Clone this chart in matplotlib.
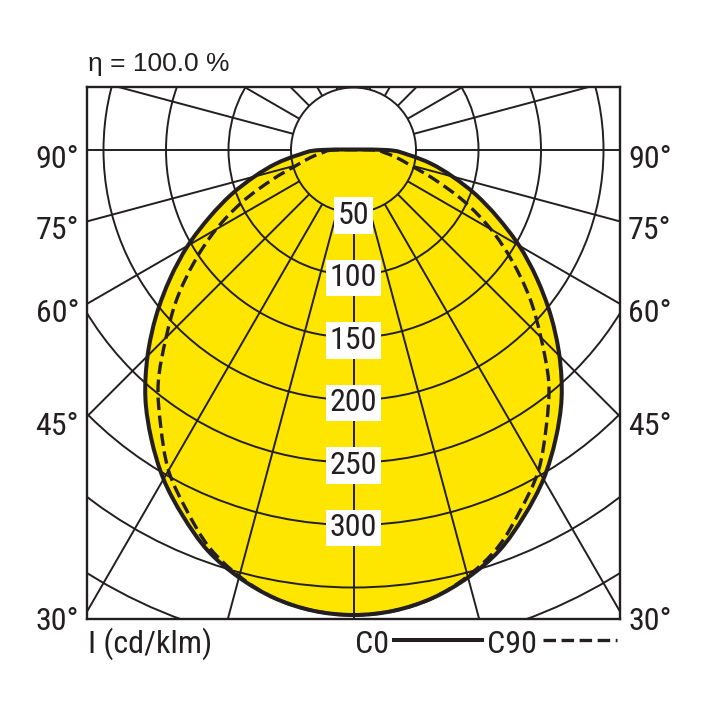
import numpy as np
import matplotlib
matplotlib.use("Agg")
import matplotlib.pyplot as plt
import matplotlib.font_manager as fm
from matplotlib.patches import Circle, PathPatch
from matplotlib.path import Path
from matplotlib.lines import Line2D

# luminous intensity (cd/klm) against gamma angle
gamma = [0, 5, 10, 15, 20, 25, 30, 35, 40, 45, 50, 55, 60, 65, 70, 75, 80, 85, 90]
c0 = [372, 370, 364, 354, 341, 323, 304, 282, 259, 233, 206, 179, 153, 127, 104, 82, 63, 44, 26]
c90 = [372, 370, 364, 353, 338, 317, 296, 269, 243, 212, 184, 155, 127, 98, 69, 47, 35, 25, 16]

ring_values = [50, 100, 150, 200, 250, 300, 350, 400, 450]
ring_labels = [50, 100, 150, 200, 250, 300]
side_angles = [90, 75, 60, 45, 30]
eta = "η = 100.0 %"
unit = "I (cd/klm)"

# a condensed face, close to the narrow grotesque of the original
names = {f.name for f in fm.fontManager.ttflist}
fam = "DejaVu Sans"
for cand in ["Roboto Condensed", "Archivo Narrow", "PT Sans Narrow", "Barlow Semi Condensed"]:
    if cand in names:
        fam = cand
        break
title_fam = "Liberation Sans" if "Liberation Sans" in names else fam
plt.rcParams["font.family"] = [fam, "DejaVu Sans"]
plt.rcParams["lines.scale_dashes"] = False

ink = "#231f20"
yellow = "#ffe600"
W = 708.0
ppc = 1.25  # pixels per cd/klm
fs = 23

fig = plt.figure(figsize=(7.08, 7.08), dpi=100)
box = (87, 87, 620, 619)  # left, top, right, bottom in pixels
ax = fig.add_axes([box[0] / W, 1 - box[3] / W, (box[2] - box[0]) / W, (box[3] - box[1]) / W])
cx, cy = 354, 150
xr = (box[2] - box[0]) / 2 / ppc
ax.set_xlim(-xr, xr)
ax.set_ylim(-(box[3] - cy) / ppc, (cy - box[1]) / ppc)
ax.set_xticks([])
ax.set_yticks([])
for s in ax.spines.values():
    s.set_linewidth(1.7)
    s.set_color(ink)


def smooth_path(vals):
    # closed curve through the read points, drawn as cubic Bezier pieces
    g = np.radians(np.array(gamma, dtype=float))
    v = np.array(vals, dtype=float)
    gg = np.concatenate([-g[::-1], g[1:]])
    vv = np.concatenate([v[::-1], v[1:]])
    p = np.column_stack([vv * np.sin(gg), -vv * np.cos(gg)])
    n = len(p)
    verts = [p[0]]
    codes = [Path.MOVETO]
    for i in range(n):
        a, b, c, d = p[i - 1], p[i], p[(i + 1) % n], p[(i + 2) % n]
        verts += [b + (c - a) / 6, c - (d - b) / 6, c]
        codes += [Path.CURVE4] * 3
    return Path(verts, codes)


ax.add_patch(PathPatch(smooth_path(c0), fc=yellow, ec="none", zorder=1))

for r in ring_values:
    ax.add_patch(Circle((0, 0), r, fill=False, ec=ink, lw=1.4, zorder=2))
for a in np.arange(-165, 181, 15):
    t = np.radians(a)
    ax.plot([50 * np.sin(t), 600 * np.sin(t)], [-50 * np.cos(t), -600 * np.cos(t)],
            color=ink, lw=1.4, zorder=2, solid_capstyle="butt")

ax.add_patch(PathPatch(smooth_path(c90), fc="none", ec=ink, lw=2.4, ls=(0, (9, 4)), zorder=3))
ax.add_patch(PathPatch(smooth_path(c0), fc="none", ec=ink, lw=2.9, zorder=3))

for v in ring_labels:
    ax.text(0, -v, str(v), ha="center", va="center_baseline", fontsize=fs, color=ink, zorder=5,
            bbox=dict(boxstyle="square,pad=0.12", fc="white", ec="none"))

half = (box[2] - box[0]) / 2
for a in side_angles:
    hit = cy + (half / np.tan(np.radians(a)) if a < 90 else 0)
    yb = 1 - (hit + 18) / W
    lab = f"{a}°"
    fig.text(79 / W, yb, lab, ha="right", va="baseline", fontsize=fs, color=ink)
    fig.text(628 / W, yb, lab, ha="left", va="baseline", fontsize=fs, color=ink)

fig.text(88 / W, 1 - 71 / W, eta, ha="left", va="baseline", fontsize=19, color=ink,
         family=[title_fam, "DejaVu Sans"])
fig.text(88 / W, 1 - 653 / W, unit, ha="left", va="baseline", fontsize=fs, color=ink)
fig.text(355 / W, 1 - 653 / W, "C0", ha="left", va="baseline", fontsize=fs, color=ink)
fig.text(487 / W, 1 - 653 / W, "C90", ha="left", va="baseline", fontsize=fs, color=ink)
ly = 1 - 640 / W
fig.add_artist(Line2D([394 / W, 482 / W], [ly, ly], color=ink, lw=2.9))
fig.add_artist(Line2D([543 / W, 617 / W], [ly, ly], color=ink, lw=2.4, dashes=(9, 4)))

fig.savefig("out.png", dpi=100)
